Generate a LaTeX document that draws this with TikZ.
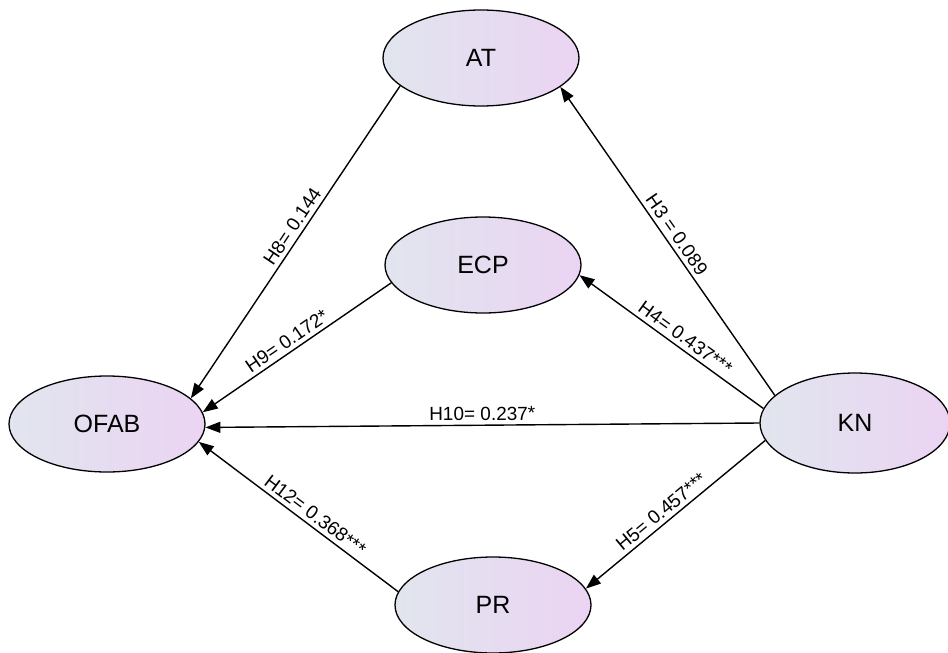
\documentclass[tikz,border=0pt]{standalone}
\usepackage{fontspec}
\setmainfont{Liberation Sans}
\usepackage{tikz}
\usetikzlibrary{arrows.meta,shapes.geometric}

\definecolor{latleft}{HTML}{E1E5EE}
\definecolor{latright}{HTML}{EBD4F3}

\begin{document}
\begin{tikzpicture}[x=1pt, y=-1pt,
  latent/.style={ellipse, draw, line width=1.3pt, left color=latleft,
                 right color=latright, minimum width=196pt, minimum height=96pt,
                 inner sep=0pt, font=\fontsize{25}{30}\selectfont},
  path/.style={line width=1.4pt, -{Triangle[length=15pt,width=11pt]}},
  coef/.style={sloped, above, inner sep=4pt, font=\fontsize{19}{23}\selectfont}]
  \useasboundingbox (0,0) rectangle (948,653);
  % Constructs
  \node[latent] (AT)   at (481,58)  {AT};
  \node[latent] (ECP)  at (483,265) {ECP};
  \node[latent] (OFAB) at (107,424) {OFAB};
  \node[latent, minimum width=190pt, minimum height=100pt] (KN) at (855,423) {KN};
  \node[latent] (PR)   at (493,605) {PR};
  % Paths into OFAB
  \draw[path] (AT.199)  -- node[coef, pos=0.47] {H8= 0.144} (OFAB.17);
  \draw[path] (ECP.191) -- node[coef, pos=0.52] {H9= 0.172*} (OFAB.7);
  \draw[path] (KN.180)  -- node[coef, pos=0.5] {H10= 0.237*} (OFAB.-2);
  \draw[path] (PR.172)  -- node[coef, pos=0.45] {H12= 0.368***} (OFAB.-11);
  % Paths out of KN
  \draw[path] (KN.161) -- node[coef, pos=0.5] {H3 = 0.089} (AT.340);
  \draw[path] (KN.171) -- node[coef, pos=0.46] {H4= 0.437***} (ECP.-6);
  \draw[path] (KN.191) -- node[coef, pos=0.54] {H5= 0.457***} (PR.10);
\end{tikzpicture}
\end{document}
